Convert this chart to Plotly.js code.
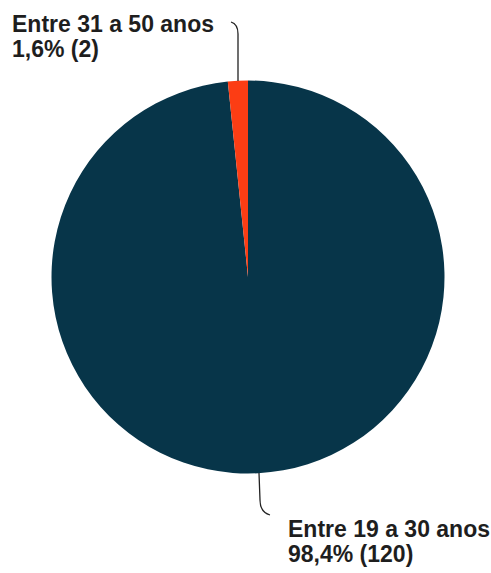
<!DOCTYPE html>
<html>
<head>
<meta charset="utf-8">
<script src="https://cdn.plot.ly/plotly-3.0.1.min.js"></script>
<style>html,body{margin:0;padding:0;background:#fff;}#chart{width:491px;height:573px;}</style>
</head>
<body>
<div id="chart"></div>
<script>
// Data
const categories = ["Entre 19 a 30 anos", "Entre 31 a 50 anos"];
const counts = [120, 2];
const percentLabels = ["98,4%", "1,6%"];
const colors = ["#073549", "#fc3d14"];

const W = 491, H = 573;
const px = x => x / W;
const py = y => 1 - y / H;

const trace = {
  type: "pie",
  labels: categories,
  values: counts,
  sort: false,
  direction: "clockwise",
  rotation: 0,
  textinfo: "none",
  hoverinfo: "label+value+percent",
  marker: { colors: colors, line: { width: 0 } },
  domain: { x: [px(248 - 196.5), px(248 + 196.5)], y: [py(473.5), py(80.5)] },
  showlegend: false
};

const font = { family: "Liberation Sans, Arial, sans-serif", size: 23, color: "#1e1e1e" };
const labelPos = [
  { x: 286, y1: 529, y2: 554 },
  { x: 10, y1: 24, y2: 49 }
];
const annotations = [];
categories.forEach((c, i) => {
  annotations.push({ xref: "paper", yref: "paper", x: px(labelPos[i].x), y: py(labelPos[i].y1),
    xanchor: "left", yanchor: "middle", showarrow: false, text: "<b>" + c + "</b>", font: font });
  annotations.push({ xref: "paper", yref: "paper", x: px(labelPos[i].x), y: py(labelPos[i].y2),
    xanchor: "left", yanchor: "middle", showarrow: false,
    text: "<b>" + percentLabels[i] + " (" + counts[i] + ")</b>", font: font });
});

function pathOf(pts) {
  const p = pts.map(([x, y]) => [px(x), py(y)]);
  return `M${p[0][0]},${p[0][1]} Q${p[1][0]},${p[1][1]} ${p[2][0]},${p[2][1]} L${p[3][0]},${p[3][1]}`;
}
const shapes = [
  { type: "path", xref: "paper", yref: "paper",
    path: pathOf([[231, 22], [238, 24], [238, 34], [238, 81]]),
    line: { color: "#222", width: 1.3 } },
  { type: "path", xref: "paper", yref: "paper",
    path: pathOf([[270, 515], [260, 512], [260, 500], [259, 473]]),
    line: { color: "#222", width: 1.3 } }
];

const layout = {
  width: W, height: H,
  margin: { l: 0, r: 0, t: 0, b: 0 },
  paper_bgcolor: "#ffffff",
  showlegend: false,
  annotations: annotations,
  shapes: shapes
};

Plotly.newPlot("chart", [trace], layout, { displayModeBar: false, staticPlot: true });
</script>
</body>
</html>
